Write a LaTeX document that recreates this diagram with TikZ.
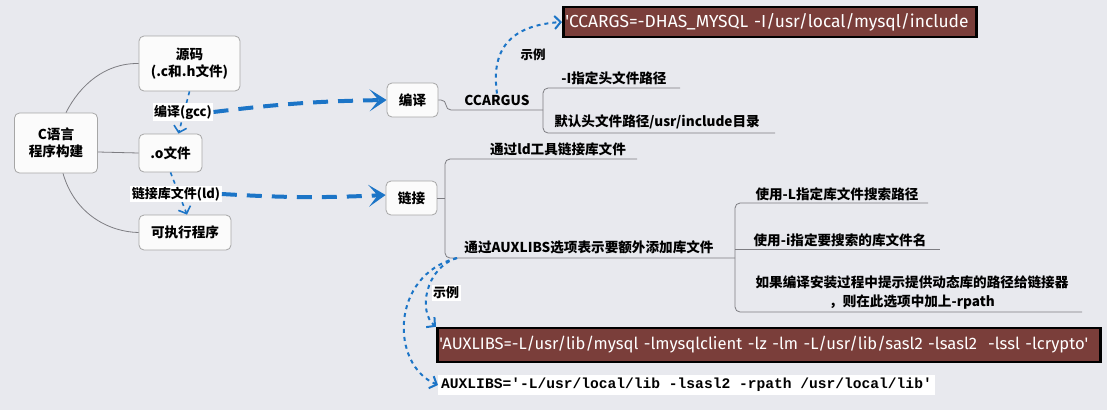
\documentclass[tikz,border=0pt]{standalone}
\usepackage{fontspec}
\setmainfont{Noto Sans CJK SC}
\newfontfamily\codefont{Fira Sans}[Ligatures=TeXOff]
\newfontfamily\ttcode{Liberation Mono}[Ligatures=TeXOff]
\usetikzlibrary{arrows.meta,positioning}
\definecolor{bgcol}{RGB}{232,233,238}
\definecolor{flowblue}{RGB}{28,117,199}
\definecolor{codebg}{RGB}{122,62,58}
\definecolor{treegray}{RGB}{125,125,130}
\tikzset{
  topic/.style={draw=gray!70, fill=white!97!gray, rounded corners=5pt, line width=0.8pt,
    align=center, inner sep=0pt, font=\bfseries\fontsize{13.6}{17}\selectfont},
  branch/.style={draw=treegray, line width=0.8pt, rounded corners=5pt},
  leaf/.style={inner sep=1pt, align=center, font=\bfseries\fontsize{13.6}{19}\selectfont},
  tag/.style={fill=white, inner sep=1.5pt, font=\bfseries\fontsize{13}{15}\selectfont},
  thinflow/.style={draw=flowblue, line width=1.6pt, dash pattern=on 4pt off 4pt,
    -{Straight Barb[length=6pt,width=13pt]}},
  dotflow/.style={draw=flowblue, line width=2pt, dash pattern=on 4pt off 4pt,
    -{Straight Barb[length=6pt,width=13pt]}},
  bigflow/.style={draw=flowblue, line width=4pt, dash pattern=on 15pt off 10pt,
    -{Stealth[length=17pt,width=22pt,inset=9pt]}},
  codebox/.style={fill=codebg, draw=black, line width=2.5pt, text=white, inner sep=2pt,
    align=left, font=\codefont\fontsize{17.4}{19}\selectfont},
  ttbox/.style={fill=white, inner sep=3pt, font=\ttcode\bfseries\fontsize{14.6}{17}\selectfont}
}
\begin{document}
\begin{tikzpicture}[x=1pt,y=-1pt]
  \fill[bgcol] (0,0) rectangle (1107,410);
  \useasboundingbox (0,0) rectangle (1107,410);

  % build steps
  \node[topic, minimum width=83pt, minimum height=60pt] (root) at (56,143) {C语言\\程序构建};
  \node[topic, minimum width=101pt, minimum height=55pt] (src) at (189.5,63.5) {源码\\(.c和.h文件)};
  \node[topic, minimum width=63pt, minimum height=38pt] (obj) at (170.5,153) {.o文件};
  \node[topic, minimum width=92pt, minimum height=35pt] (exe) at (185,232.5) {可执行程序};
  \node[topic, minimum width=51pt, minimum height=34pt] (cc) at (412.5,100) {编译};
  \node[topic, minimum width=51pt, minimum height=34pt] (ld) at (411.5,198) {链接};

  \draw[branch] ([xshift=10pt]root.north) .. controls (80,85) and (105,63) .. (src.west);
  \draw[branch] ([yshift=-9pt]root.east) -- (obj.west);
  \draw[branch] ([xshift=7pt]root.south) .. controls (75,215) and (110,232) .. (exe.west);

  \draw[thinflow] (src.south) -- ([xshift=8pt]obj.north);
  \node[tag] (gcc) at (183,112) {编译(gcc)};
  \draw[thinflow] (obj.south) -- ([xshift=2pt]exe.north);
  \node[tag] (ldlabel) at (176,194) {链接库文件(ld)};

  \draw[bigflow] (gcc.east) to[bend left=3] (cc.west);
  \draw[bigflow] (ldlabel.east) to[bend right=3] ([yshift=3pt]ld.west);

  % compile options
  \node[leaf] (ccargus) at (497,100) {CCARGUS};
  \node[leaf] (incopt) at (614,78) {-I指定头文件路径};
  \node[leaf] (incdef) at (657,122) {默认头文件路径/usr/include目录};
  \draw[branch] (cc.east) -- (446,100) -- (446,110) -- (543,110);
  \draw[branch] (680,88) -- (543,88) -- (543,133) -- (775,133);

  \node[codebox, text width=409pt, minimum height=30pt, anchor=west] (ccex) at (562,22)
    {'CCARGS=-DHAS\_MYSQL -I/usr/local/mysql/include};
  \node[leaf, font=\bfseries\fontsize{12.5}{15}\selectfont] (ex1) at (533,55) {示例};
  \draw[dotflow] (ccargus.north) .. controls (490,45) and (515,25) .. (ccex.west);

  % link options
  \node[leaf] (ldtool) at (558,149) {通过ld工具链接库文件};
  \node[leaf] (auxopt) at (589,247) {通过AUXLIBS选项表示要额外添加库文件};
  \draw[branch] (ld.east) -- (445,198);
  \draw[branch] (637,159) -- (445,159) -- (445,258) -- (735,258);

  \node[leaf] (lpath) at (837,194) {使用-L指定库文件搜索路径};
  \node[leaf] (lname) at (840,240) {使用-i指定要搜索的库文件名};
  \node[leaf] (rpath) at (912,292) {如果编译安装过程中提示提供动态库的路径给链接器\\，则在此选项中加上-rpath};
  \draw[branch] (928,203) -- (735,203) -- (735,312) -- (1082,312);
  \draw[branch] (735,249) -- (940,249);

  \node[codebox, text width=659pt, minimum height=34pt, anchor=west,
    font=\codefont\fontsize{16.6}{19}\selectfont] (auxex) at (436,345)
    {\mbox{'AUXLIBS=-L/usr/lib/mysql -lmysqlclient -lz -lm -L/usr/lib/sasl2 -lsasl2 \ -lssl -lcrypto'}};
  \node[ttbox, anchor=west] (auxrpath) at (438,385)
    {AUXLIBS='-L/usr/local/lib -lsasl2 -rpath /usr/local/lib'};

  \coordinate (auxfork) at (457,258);
  \draw[dotflow] (auxfork) .. controls (425,268) and (418,312) .. (auxex.north west);
  \draw[dotflow] (auxfork) .. controls (390,275) and (390,365) .. (auxrpath.west);
  \node[tag] (ex2) at (446,293) {示例};
\end{tikzpicture}
\end{document}
